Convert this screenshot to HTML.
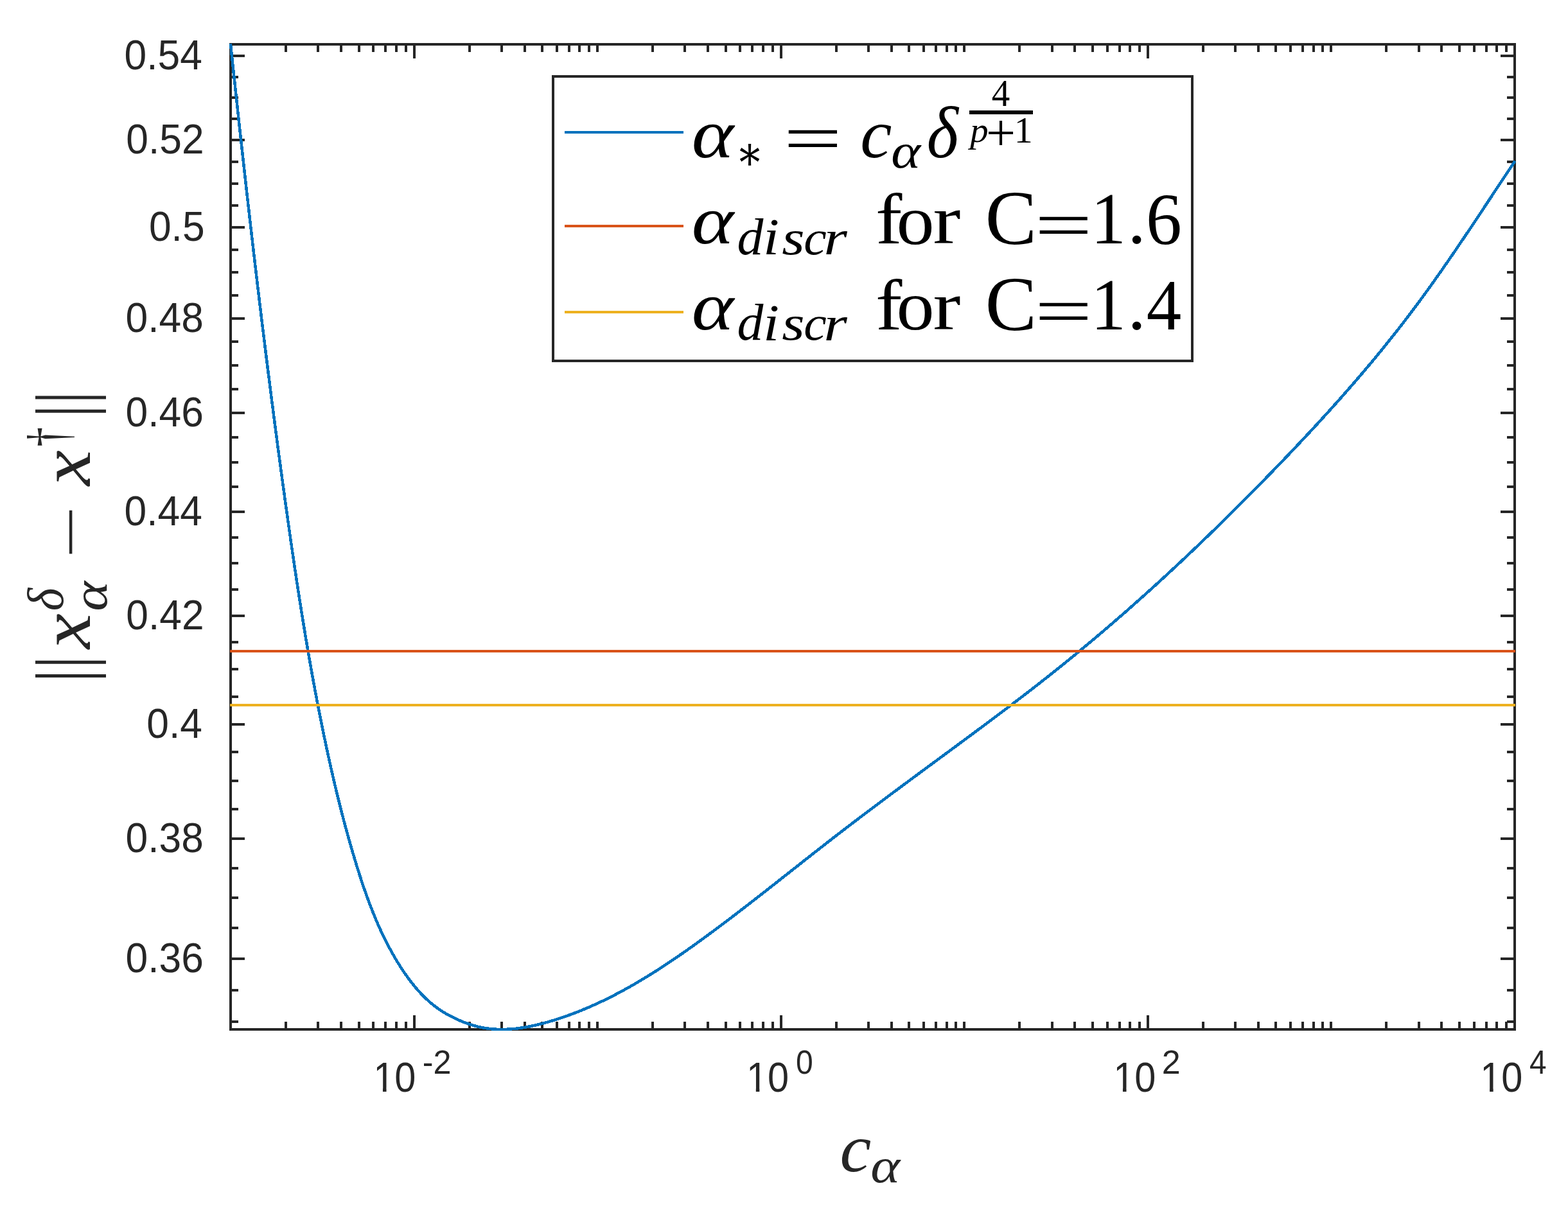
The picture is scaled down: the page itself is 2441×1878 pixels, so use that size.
<!DOCTYPE html>
<html><head><meta charset="utf-8"><title>plot</title>
<style>html,body{margin:0;padding:0;background:#fff;overflow:hidden}svg{display:block}</style></head>
<body>
<svg xmlns="http://www.w3.org/2000/svg" width="2441" height="1878" viewBox="0 0 2441 1878">
<rect x="0" y="0" width="2441" height="1878" fill="#ffffff"/>
<defs><clipPath id="axclip"><rect x="357" y="67" width="2003" height="1538"/></clipPath></defs>
<g shape-rendering="crispEdges">
<rect x="359.0" y="69.0" width="1999.0" height="1534.0" fill="none" stroke="#262626" stroke-width="4"/>
<path d="M359.00,1603.0 v-10 M359.00,69.0 v10 M444.97,1603.0 v-10 M444.97,69.0 v10 M495.25,1603.0 v-10 M495.25,69.0 v10 M530.93,1603.0 v-10 M530.93,69.0 v10 M558.61,1603.0 v-10 M558.61,69.0 v10 M581.22,1603.0 v-10 M581.22,69.0 v10 M600.34,1603.0 v-10 M600.34,69.0 v10 M616.90,1603.0 v-10 M616.90,69.0 v10 M631.50,1603.0 v-10 M631.50,69.0 v10 M644.57,1603.0 v-20 M644.57,69.0 v20 M730.54,1603.0 v-10 M730.54,69.0 v10 M780.82,1603.0 v-10 M780.82,69.0 v10 M816.50,1603.0 v-10 M816.50,69.0 v10 M844.18,1603.0 v-10 M844.18,69.0 v10 M866.79,1603.0 v-10 M866.79,69.0 v10 M885.91,1603.0 v-10 M885.91,69.0 v10 M902.47,1603.0 v-10 M902.47,69.0 v10 M917.08,1603.0 v-10 M917.08,69.0 v10 M930.14,1603.0 v-10 M930.14,69.0 v10 M1016.11,1603.0 v-10 M1016.11,69.0 v10 M1066.40,1603.0 v-10 M1066.40,69.0 v10 M1102.07,1603.0 v-10 M1102.07,69.0 v10 M1129.75,1603.0 v-10 M1129.75,69.0 v10 M1152.36,1603.0 v-10 M1152.36,69.0 v10 M1171.48,1603.0 v-10 M1171.48,69.0 v10 M1188.04,1603.0 v-10 M1188.04,69.0 v10 M1202.65,1603.0 v-10 M1202.65,69.0 v10 M1215.71,1603.0 v-20 M1215.71,69.0 v20 M1301.68,1603.0 v-10 M1301.68,69.0 v10 M1351.97,1603.0 v-10 M1351.97,69.0 v10 M1387.65,1603.0 v-10 M1387.65,69.0 v10 M1415.32,1603.0 v-10 M1415.32,69.0 v10 M1437.93,1603.0 v-10 M1437.93,69.0 v10 M1457.05,1603.0 v-10 M1457.05,69.0 v10 M1473.61,1603.0 v-10 M1473.61,69.0 v10 M1488.22,1603.0 v-10 M1488.22,69.0 v10 M1501.29,1603.0 v-10 M1501.29,69.0 v10 M1587.25,1603.0 v-10 M1587.25,69.0 v10 M1637.54,1603.0 v-10 M1637.54,69.0 v10 M1673.22,1603.0 v-10 M1673.22,69.0 v10 M1700.89,1603.0 v-10 M1700.89,69.0 v10 M1723.50,1603.0 v-10 M1723.50,69.0 v10 M1742.62,1603.0 v-10 M1742.62,69.0 v10 M1759.18,1603.0 v-10 M1759.18,69.0 v10 M1773.79,1603.0 v-10 M1773.79,69.0 v10 M1786.86,1603.0 v-20 M1786.86,69.0 v20 M1872.82,1603.0 v-10 M1872.82,69.0 v10 M1923.11,1603.0 v-10 M1923.11,69.0 v10 M1958.79,1603.0 v-10 M1958.79,69.0 v10 M1986.46,1603.0 v-10 M1986.46,69.0 v10 M2009.07,1603.0 v-10 M2009.07,69.0 v10 M2028.19,1603.0 v-10 M2028.19,69.0 v10 M2044.75,1603.0 v-10 M2044.75,69.0 v10 M2059.36,1603.0 v-10 M2059.36,69.0 v10 M2072.43,1603.0 v-10 M2072.43,69.0 v10 M2158.39,1603.0 v-10 M2158.39,69.0 v10 M2208.68,1603.0 v-10 M2208.68,69.0 v10 M2244.36,1603.0 v-10 M2244.36,69.0 v10 M2272.03,1603.0 v-10 M2272.03,69.0 v10 M2294.65,1603.0 v-10 M2294.65,69.0 v10 M2313.76,1603.0 v-10 M2313.76,69.0 v10 M2330.33,1603.0 v-10 M2330.33,69.0 v10 M2344.93,1603.0 v-10 M2344.93,69.0 v10 M2358.00,1603.0 v-20 M2358.00,69.0 v20 M359.0,1590.82 h10 M2358.0,1590.82 h-10 M359.0,1541.64 h10 M2358.0,1541.64 h-10 M359.0,1493.15 h20 M2358.0,1493.15 h-20 M359.0,1445.33 h10 M2358.0,1445.33 h-10 M359.0,1398.16 h10 M2358.0,1398.16 h-10 M359.0,1351.62 h10 M2358.0,1351.62 h-10 M359.0,1305.70 h20 M2358.0,1305.70 h-20 M359.0,1260.38 h10 M2358.0,1260.38 h-10 M359.0,1215.64 h10 M2358.0,1215.64 h-10 M359.0,1171.47 h10 M2358.0,1171.47 h-10 M359.0,1127.86 h20 M2358.0,1127.86 h-20 M359.0,1084.79 h10 M2358.0,1084.79 h-10 M359.0,1042.25 h10 M2358.0,1042.25 h-10 M359.0,1000.23 h10 M2358.0,1000.23 h-10 M359.0,958.71 h20 M2358.0,958.71 h-20 M359.0,917.68 h10 M2358.0,917.68 h-10 M359.0,877.13 h10 M2358.0,877.13 h-10 M359.0,837.05 h10 M2358.0,837.05 h-10 M359.0,797.42 h20 M2358.0,797.42 h-20 M359.0,758.25 h10 M2358.0,758.25 h-10 M359.0,719.51 h10 M2358.0,719.51 h-10 M359.0,681.20 h10 M2358.0,681.20 h-10 M359.0,643.31 h20 M2358.0,643.31 h-20 M359.0,605.83 h10 M2358.0,605.83 h-10 M359.0,568.75 h10 M2358.0,568.75 h-10 M359.0,532.06 h10 M2358.0,532.06 h-10 M359.0,495.75 h20 M2358.0,495.75 h-20 M359.0,459.83 h10 M2358.0,459.83 h-10 M359.0,424.27 h10 M2358.0,424.27 h-10 M359.0,389.07 h10 M2358.0,389.07 h-10 M359.0,354.22 h20 M2358.0,354.22 h-20 M359.0,319.73 h10 M2358.0,319.73 h-10 M359.0,285.57 h10 M2358.0,285.57 h-10 M359.0,251.74 h10 M2358.0,251.74 h-10 M359.0,218.25 h20 M2358.0,218.25 h-20 M359.0,185.07 h10 M2358.0,185.07 h-10 M359.0,152.21 h10 M2358.0,152.21 h-10 M359.0,119.65 h10 M2358.0,119.65 h-10 M359.0,87.40 h20 M2358.0,87.40 h-20" fill="none" stroke="#262626" stroke-width="4" stroke-linecap="square"/>
</g>
<g clip-path="url(#axclip)" fill="none" stroke-width="4" stroke-linejoin="round" shape-rendering="crispEdges">
<path d="M358.89,68.01 L359.00,69.00 L359.67,75.26 L360.34,81.53 L361.00,87.79 L361.67,94.05 L362.34,100.32 L363.01,106.58 L363.68,112.85 L364.35,119.11 L365.03,125.37 L365.70,131.64 L366.38,137.90 L367.05,144.16 L367.73,150.43 L368.41,156.69 L369.09,162.95 L369.77,169.22 L370.45,175.48 L371.13,181.74 L371.82,188.01 L372.50,194.27 L373.19,200.53 L373.87,206.80 L374.56,213.06 L375.25,219.32 L375.94,225.58 L376.63,231.85 L377.33,238.11 L378.02,244.37 L378.72,250.63 L379.42,256.89 L380.11,263.16 L380.81,269.42 L381.51,275.68 L382.22,281.94 L382.92,288.20 L383.63,294.46 L384.33,300.72 L385.04,306.98 L385.75,313.24 L386.46,319.50 L387.17,325.76 L387.89,332.02 L388.60,338.28 L389.32,344.54 L390.04,350.80 L390.76,357.06 L391.48,363.32 L392.20,369.58 L392.93,375.84 L393.65,382.09 L394.38,388.35 L395.11,394.61 L395.84,400.87 L396.58,407.12 L397.31,413.38 L398.05,419.64 L398.78,425.89 L399.52,432.15 L400.27,438.40 L401.01,444.66 L401.75,450.91 L402.50,457.17 L403.25,463.42 L404.00,469.68 L404.75,475.93 L405.51,482.19 L406.26,488.44 L407.02,494.69 L407.78,500.94 L408.55,507.20 L409.31,513.45 L410.08,519.70 L410.84,525.95 L411.61,532.20 L412.39,538.45 L413.16,544.70 L413.94,550.95 L414.71,557.20 L415.49,563.45 L416.28,569.70 L417.06,575.95 L417.85,582.20 L418.64,588.44 L419.43,594.69 L420.22,600.94 L421.02,607.18 L421.81,613.43 L422.61,619.68 L423.41,625.92 L424.22,632.17 L425.03,638.41 L425.83,644.65 L426.65,650.90 L427.46,657.14 L428.27,663.38 L429.09,669.62 L429.91,675.87 L430.74,682.11 L431.56,688.35 L432.39,694.59 L433.22,700.83 L434.05,707.07 L434.89,713.31 L435.72,719.54 L436.56,725.78 L437.41,732.02 L438.25,738.26 L439.10,744.49 L439.95,750.73 L440.80,756.96 L441.66,763.20 L442.52,769.43 L443.38,775.66 L444.24,781.90 L445.11,788.13 L445.98,794.36 L446.85,800.59 L447.72,806.82 L448.60,813.05 L449.48,819.28 L450.36,825.51 L451.25,831.74 L452.14,837.97 L453.03,844.20 L453.93,850.42 L454.83,856.65 L455.74,862.88 L456.65,869.10 L457.56,875.33 L458.49,881.55 L459.41,887.77 L460.34,893.99 L461.28,900.22 L462.22,906.44 L463.16,912.66 L464.12,918.88 L465.07,925.10 L466.04,931.32 L467.01,937.53 L467.99,943.75 L468.97,949.97 L469.96,956.18 L470.96,962.40 L471.96,968.61 L472.98,974.83 L474.00,981.04 L475.02,987.25 L476.06,993.47 L477.10,999.68 L478.15,1005.89 L479.21,1012.10 L480.28,1018.31 L481.36,1024.51 L482.44,1030.72 L483.54,1036.93 L484.64,1043.13 L485.76,1049.34 L486.88,1055.54 L488.01,1061.75 L489.16,1067.95 L490.31,1074.15 L491.47,1080.35 L492.65,1086.55 L493.83,1092.75 L495.02,1098.95 L496.23,1105.15 L497.45,1111.35 L498.67,1117.55 L499.91,1123.74 L501.16,1129.94 L502.43,1136.13 L503.70,1142.33 L504.99,1148.52 L506.29,1154.71 L507.60,1160.90 L508.92,1167.09 L510.26,1173.28 L511.61,1179.46 L512.98,1185.65 L514.35,1191.83 L515.75,1198.01 L517.15,1204.18 L518.58,1210.35 L520.01,1216.52 L521.46,1222.68 L522.93,1228.84 L524.42,1234.99 L525.91,1241.13 L527.43,1247.27 L528.96,1253.40 L530.51,1259.53 L532.08,1265.64 L533.67,1271.75 L535.27,1277.85 L536.89,1283.95 L538.53,1290.03 L540.19,1296.10 L541.87,1302.17 L543.56,1308.22 L545.28,1314.26 L547.02,1320.29 L548.78,1326.32 L550.55,1332.32 L552.35,1338.32 L554.17,1344.30 L556.01,1350.28 L557.88,1356.23 L559.76,1362.18 L561.68,1368.11 L563.62,1374.02 L565.60,1379.92 L567.62,1385.81 L569.67,1391.68 L571.76,1397.53 L573.90,1403.36 L576.09,1409.18 L578.32,1414.99 L580.61,1420.77 L582.96,1426.54 L585.36,1432.28 L587.82,1438.01 L590.35,1443.72 L592.95,1449.41 L595.61,1455.08 L598.35,1460.73 L601.16,1466.36 L604.06,1471.97 L607.03,1477.55 L610.09,1483.12 L613.23,1488.66 L616.46,1494.18 L619.79,1499.67 L623.21,1505.13 L626.73,1510.55 L630.35,1515.90 L634.07,1521.19 L637.90,1526.39 L641.83,1531.49 L645.88,1536.49 L650.04,1541.36 L654.31,1546.10 L658.71,1550.69 L663.22,1555.12 L667.86,1559.38 L672.63,1563.45 L677.52,1567.33 L682.55,1570.99 L687.70,1574.45 L692.98,1577.69 L698.38,1580.76 L703.88,1583.64 L709.49,1586.37 L715.18,1588.94 L720.96,1591.34 L726.82,1593.56 L732.75,1595.57 L738.73,1597.36 L744.77,1598.91 L750.86,1600.21 L756.98,1601.25 L763.14,1602.04 L769.33,1602.58 L775.54,1602.89 L781.77,1602.97 L788.02,1602.84 L794.28,1602.51 L800.55,1601.99 L806.82,1601.29 L813.09,1600.42 L819.35,1599.39 L825.60,1598.21 L831.84,1596.89 L838.07,1595.44 L844.27,1593.87 L850.44,1592.20 L856.58,1590.43 L862.68,1588.58 L868.75,1586.64 L874.77,1584.65 L880.75,1582.58 L886.69,1580.45 L892.59,1578.25 L898.46,1576.00 L904.28,1573.68 L910.08,1571.29 L915.84,1568.85 L921.56,1566.35 L927.26,1563.79 L932.93,1561.18 L938.57,1558.51 L944.18,1555.78 L949.77,1553.00 L955.33,1550.17 L960.87,1547.28 L966.39,1544.35 L971.88,1541.36 L977.36,1538.33 L982.82,1535.25 L988.25,1532.12 L993.67,1528.96 L999.07,1525.75 L1004.45,1522.50 L1009.81,1519.21 L1015.15,1515.88 L1020.48,1512.52 L1025.79,1509.12 L1031.08,1505.69 L1036.35,1502.22 L1041.61,1498.73 L1046.86,1495.21 L1052.08,1491.66 L1057.30,1488.08 L1062.50,1484.48 L1067.68,1480.86 L1072.85,1477.21 L1078.01,1473.54 L1083.16,1469.86 L1088.29,1466.16 L1093.41,1462.44 L1098.52,1458.70 L1103.62,1454.96 L1108.70,1451.20 L1113.78,1447.43 L1118.85,1443.65 L1123.90,1439.86 L1128.95,1436.05 L1133.99,1432.24 L1139.02,1428.42 L1144.04,1424.59 L1149.06,1420.75 L1154.06,1416.91 L1159.06,1413.06 L1164.06,1409.20 L1169.05,1405.33 L1174.03,1401.46 L1179.00,1397.59 L1183.97,1393.71 L1188.94,1389.82 L1193.90,1385.93 L1198.86,1382.04 L1203.82,1378.15 L1208.77,1374.25 L1213.72,1370.35 L1218.67,1366.45 L1223.61,1362.55 L1228.56,1358.65 L1233.50,1354.75 L1238.44,1350.86 L1243.39,1346.96 L1248.33,1343.06 L1253.27,1339.17 L1258.22,1335.28 L1263.16,1331.39 L1268.11,1327.51 L1273.06,1323.63 L1278.01,1319.76 L1282.96,1315.89 L1287.92,1312.03 L1292.88,1308.17 L1297.85,1304.32 L1302.82,1300.48 L1307.80,1296.65 L1312.77,1292.82 L1317.76,1289.00 L1322.75,1285.19 L1327.74,1281.38 L1332.73,1277.58 L1337.73,1273.78 L1342.74,1269.99 L1347.75,1266.21 L1352.76,1262.43 L1357.77,1258.65 L1362.79,1254.88 L1367.81,1251.12 L1372.84,1247.36 L1377.87,1243.60 L1382.90,1239.85 L1387.93,1236.09 L1392.97,1232.35 L1398.01,1228.60 L1403.05,1224.86 L1408.09,1221.12 L1413.14,1217.38 L1418.19,1213.64 L1423.24,1209.90 L1428.29,1206.17 L1433.35,1202.43 L1438.40,1198.70 L1443.46,1194.97 L1448.52,1191.23 L1453.58,1187.50 L1458.65,1183.77 L1463.71,1180.03 L1468.78,1176.29 L1473.84,1172.56 L1478.91,1168.82 L1483.98,1165.08 L1489.05,1161.34 L1494.12,1157.59 L1499.19,1153.84 L1504.26,1150.09 L1509.33,1146.34 L1514.40,1142.58 L1519.47,1138.82 L1524.54,1135.06 L1529.61,1131.29 L1534.68,1127.52 L1539.74,1123.74 L1544.80,1119.95 L1549.86,1116.17 L1554.91,1112.37 L1559.96,1108.57 L1565.01,1104.77 L1570.05,1100.96 L1575.09,1097.14 L1580.12,1093.31 L1585.15,1089.48 L1590.17,1085.64 L1595.18,1081.79 L1600.19,1077.94 L1605.18,1074.07 L1610.18,1070.20 L1615.16,1066.32 L1620.13,1062.43 L1625.10,1058.53 L1630.06,1054.63 L1635.00,1050.71 L1639.94,1046.78 L1644.87,1042.84 L1649.79,1038.90 L1654.70,1034.94 L1659.60,1030.97 L1664.49,1027.00 L1669.37,1023.01 L1674.24,1019.02 L1679.10,1015.01 L1683.96,1011.00 L1688.80,1006.98 L1693.64,1002.95 L1698.46,998.90 L1703.28,994.85 L1708.09,990.79 L1712.89,986.73 L1717.68,982.65 L1722.46,978.56 L1727.24,974.47 L1732.00,970.36 L1736.76,966.25 L1741.51,962.13 L1746.25,958.00 L1750.98,953.86 L1755.71,949.71 L1760.42,945.55 L1765.13,941.38 L1769.83,937.21 L1774.52,933.03 L1779.21,928.84 L1783.88,924.64 L1788.55,920.43 L1793.21,916.21 L1797.86,911.99 L1802.51,907.75 L1807.14,903.51 L1811.77,899.26 L1816.40,895.01 L1821.01,890.74 L1825.62,886.47 L1830.22,882.19 L1834.81,877.90 L1839.40,873.60 L1843.97,869.29 L1848.55,864.98 L1853.11,860.66 L1857.67,856.33 L1862.22,851.99 L1866.76,847.65 L1871.30,843.30 L1875.83,838.94 L1880.35,834.57 L1884.87,830.20 L1889.38,825.82 L1893.88,821.43 L1898.38,817.03 L1902.87,812.63 L1907.36,808.22 L1911.83,803.80 L1916.31,799.38 L1920.77,794.94 L1925.23,790.51 L1929.69,786.06 L1934.13,781.61 L1938.58,777.15 L1943.01,772.68 L1947.44,768.20 L1951.87,763.72 L1956.28,759.24 L1960.70,754.74 L1965.11,750.24 L1969.51,745.73 L1973.90,741.22 L1978.30,736.70 L1982.68,732.17 L1987.06,727.64 L1991.44,723.10 L1995.81,718.55 L2000.17,714.00 L2004.53,709.44 L2008.88,704.87 L2013.22,700.30 L2017.56,695.72 L2021.89,691.13 L2026.21,686.53 L2030.53,681.93 L2034.83,677.31 L2039.13,672.69 L2043.42,668.07 L2047.71,663.43 L2051.98,658.79 L2056.24,654.13 L2060.50,649.47 L2064.74,644.81 L2068.98,640.13 L2073.20,635.44 L2077.42,630.75 L2081.62,626.04 L2085.82,621.33 L2090.00,616.60 L2094.17,611.87 L2098.33,607.13 L2102.48,602.38 L2106.61,597.62 L2110.74,592.85 L2114.85,588.06 L2118.94,583.27 L2123.03,578.47 L2127.10,573.66 L2131.16,568.84 L2135.20,564.00 L2139.23,559.16 L2143.25,554.31 L2147.25,549.44 L2151.24,544.56 L2155.21,539.68 L2159.16,534.78 L2163.11,529.87 L2167.03,524.94 L2170.94,520.01 L2174.83,515.06 L2178.71,510.11 L2182.57,505.14 L2186.41,500.16 L2190.23,495.16 L2194.04,490.16 L2197.83,485.14 L2201.60,480.11 L2205.36,475.06 L2209.10,470.01 L2212.82,464.94 L2216.53,459.86 L2220.22,454.78 L2223.90,449.68 L2227.57,444.57 L2231.22,439.45 L2234.86,434.32 L2238.48,429.19 L2242.10,424.04 L2245.70,418.89 L2249.29,413.73 L2252.88,408.56 L2256.45,403.38 L2260.01,398.20 L2263.56,393.01 L2267.11,387.81 L2270.65,382.61 L2274.18,377.40 L2277.70,372.19 L2281.22,366.97 L2284.73,361.74 L2288.23,356.51 L2291.73,351.28 L2295.23,346.04 L2298.72,340.80 L2302.21,335.56 L2305.70,330.31 L2309.18,325.07 L2312.67,319.81 L2316.15,314.56 L2319.63,309.31 L2323.11,304.05 L2326.59,298.79 L2330.07,293.54 L2333.55,288.28 L2337.03,283.02 L2340.52,277.77 L2344.01,272.51 L2347.50,267.25 L2350.99,262.00 L2354.49,256.75 L2358.00,251.50 L2358.55,250.67" stroke="#0072BD" stroke-width="4.5"/>
<path d="M358,1014 H2359" stroke="#D95319"/>
<path d="M358,1098 H2359" stroke="#EDB120"/>
</g>
<text font-family="'Liberation Sans', Arial, Helvetica, sans-serif" fill="#262626"><tspan x="193.62" y="108.40" font-size="64.60" textLength="121.33" lengthAdjust="spacingAndGlyphs">0.54</tspan></text>
<text font-family="'Liberation Sans', Arial, Helvetica, sans-serif" fill="#262626"><tspan x="196.26" y="239.25" font-size="64.60" textLength="121.33" lengthAdjust="spacingAndGlyphs">0.52</tspan></text>
<text font-family="'Liberation Sans', Arial, Helvetica, sans-serif" fill="#262626"><tspan x="231.94" y="375.22" font-size="64.60" textLength="86.66" lengthAdjust="spacingAndGlyphs">0.5</tspan></text>
<text font-family="'Liberation Sans', Arial, Helvetica, sans-serif" fill="#262626"><tspan x="195.55" y="516.75" font-size="64.60" textLength="121.33" lengthAdjust="spacingAndGlyphs">0.48</tspan></text>
<text font-family="'Liberation Sans', Arial, Helvetica, sans-serif" fill="#262626"><tspan x="195.55" y="664.31" font-size="64.60" textLength="121.33" lengthAdjust="spacingAndGlyphs">0.46</tspan></text>
<text font-family="'Liberation Sans', Arial, Helvetica, sans-serif" fill="#262626"><tspan x="193.62" y="818.42" font-size="64.60" textLength="121.33" lengthAdjust="spacingAndGlyphs">0.44</tspan></text>
<text font-family="'Liberation Sans', Arial, Helvetica, sans-serif" fill="#262626"><tspan x="196.26" y="979.71" font-size="64.60" textLength="121.33" lengthAdjust="spacingAndGlyphs">0.42</tspan></text>
<text font-family="'Liberation Sans', Arial, Helvetica, sans-serif" fill="#262626"><tspan x="228.32" y="1148.86" font-size="64.60" textLength="86.66" lengthAdjust="spacingAndGlyphs">0.4</tspan></text>
<text font-family="'Liberation Sans', Arial, Helvetica, sans-serif" fill="#262626"><tspan x="195.55" y="1326.70" font-size="64.60" textLength="121.33" lengthAdjust="spacingAndGlyphs">0.38</tspan></text>
<text font-family="'Liberation Sans', Arial, Helvetica, sans-serif" fill="#262626"><tspan x="195.55" y="1514.15" font-size="64.60" textLength="121.33" lengthAdjust="spacingAndGlyphs">0.36</tspan></text>
<text font-family="'Liberation Sans', Arial, Helvetica, sans-serif" fill="#262626"><tspan x="581.18" y="1699.90" font-size="64.60" textLength="66.11" lengthAdjust="spacingAndGlyphs">10</tspan><tspan x="657.83" y="1672.00" font-size="52.00" textLength="44.71" lengthAdjust="spacingAndGlyphs">-2</tspan></text>
<text font-family="'Liberation Sans', Arial, Helvetica, sans-serif" fill="#262626"><tspan x="1162.02" y="1699.90" font-size="64.60" textLength="66.11" lengthAdjust="spacingAndGlyphs">10</tspan><tspan x="1239.06" y="1672.00" font-size="52.00" textLength="26.75" lengthAdjust="spacingAndGlyphs">0</tspan></text>
<text font-family="'Liberation Sans', Arial, Helvetica, sans-serif" fill="#262626"><tspan x="1733.17" y="1699.90" font-size="64.60" textLength="66.11" lengthAdjust="spacingAndGlyphs">10</tspan><tspan x="1808.71" y="1672.00" font-size="52.00">2</tspan></text>
<text font-family="'Liberation Sans', Arial, Helvetica, sans-serif" fill="#262626"><tspan x="2304.31" y="1699.90" font-size="64.60" textLength="66.11" lengthAdjust="spacingAndGlyphs">10</tspan><tspan x="2381.00" y="1672.00" font-size="52.00" textLength="26.61" lengthAdjust="spacingAndGlyphs">4</tspan></text>
<path d="M584.47,1694.4 H595.97 V1701 H584.47 Z M601.52,1694.4 H612.97 V1701 H601.52 Z" fill="#ffffff"/>
<path d="M1165.31,1694.4 H1176.81 V1701 H1165.31 Z M1182.36,1694.4 H1193.81 V1701 H1182.36 Z" fill="#ffffff"/>
<path d="M1736.46,1694.4 H1747.96 V1701 H1736.46 Z M1753.51,1694.4 H1764.96 V1701 H1753.51 Z" fill="#ffffff"/>
<path d="M2307.60,1694.4 H2319.10 V1701 H2307.60 Z M2324.65,1694.4 H2336.10 V1701 H2324.65 Z" fill="#ffffff"/>
<rect x="861" y="119" width="995" height="443" fill="#ffffff" stroke="#262626" stroke-width="4" shape-rendering="crispEdges"/>
<g stroke-width="4" fill="none" shape-rendering="crispEdges">
<path d="M879,206 H1064" stroke="#0072BD"/>
<path d="M879,352 H1064" stroke="#D95319"/>
<path d="M879,486 H1064" stroke="#EDB120"/>
</g>
<text font-family="'Liberation Serif', 'DejaVu Serif', serif" fill="#000"><tspan x="1076.75" y="244.92" font-size="107.59" textLength="65.57" lengthAdjust="spacingAndGlyphs" font-style="italic">α</tspan><tspan x="1145.07" y="264.14" font-size="74.34" textLength="44.13" lengthAdjust="spacingAndGlyphs" font-family="'DejaVu Serif', serif">∗</tspan><tspan x="1219.72" y="251.47" font-size="106.80" textLength="91.13" lengthAdjust="spacingAndGlyphs">=</tspan><tspan x="1339.38" y="245.22" font-size="108.13" textLength="49.19" lengthAdjust="spacingAndGlyphs" font-style="italic">c</tspan><tspan x="1387.38" y="261.33" font-size="77.17" textLength="45.91" lengthAdjust="spacingAndGlyphs" font-style="italic">α</tspan><tspan x="1442.83" y="245.15" font-size="114.93" textLength="49.12" lengthAdjust="spacingAndGlyphs" font-style="italic">δ</tspan><tspan x="1543.76" y="165.10" font-size="58.33" textLength="28.49" lengthAdjust="spacingAndGlyphs">4</tspan><tspan x="1510.21" y="220.95" font-size="54.15" textLength="28.40" lengthAdjust="spacingAndGlyphs" font-style="italic">p</tspan><tspan x="1534.92" y="233.88" font-size="80.79" textLength="46.05" lengthAdjust="spacingAndGlyphs">+</tspan><tspan x="1578.67" y="222.10" font-size="57.73" textLength="29.01" lengthAdjust="spacingAndGlyphs">1</tspan></text>
<rect x="1509" y="172" width="99" height="6" fill="#000"/>
<text font-family="'Liberation Serif', 'DejaVu Serif', serif" fill="#000"><tspan x="1076.75" y="379.14" font-size="106.14" textLength="65.57" lengthAdjust="spacingAndGlyphs" font-style="italic">α</tspan><tspan x="1147.55" y="395.50" font-size="80.05" textLength="40.88" lengthAdjust="spacingAndGlyphs" font-style="italic">d</tspan><tspan x="1188.05" y="396.00" font-size="80.65" textLength="25.10" lengthAdjust="spacingAndGlyphs" font-style="italic">i</tspan><tspan x="1217.29" y="395.54" font-size="76.25" textLength="35.36" lengthAdjust="spacingAndGlyphs" font-style="italic">s</tspan><tspan x="1251.20" y="395.54" font-size="76.25" textLength="35.43" lengthAdjust="spacingAndGlyphs" font-style="italic">c</tspan><tspan x="1282.46" y="395.80" font-size="76.81" textLength="36.35" lengthAdjust="spacingAndGlyphs" font-style="italic">r</tspan><tspan x="1363.07" y="379.20" font-size="113.03" textLength="41.39" lengthAdjust="spacingAndGlyphs">f</tspan><tspan x="1395.47" y="379.50" font-size="109.79" textLength="59.06" lengthAdjust="spacingAndGlyphs">o</tspan><tspan x="1452.42" y="379.20" font-size="107.02" textLength="42.93" lengthAdjust="spacingAndGlyphs">r</tspan><tspan x="1533.69" y="379.89" font-size="120.89" textLength="80.16" lengthAdjust="spacingAndGlyphs">C</tspan><tspan x="1610.84" y="385.71" font-size="106.00" textLength="89.80" lengthAdjust="spacingAndGlyphs">=</tspan><tspan x="1698.36" y="379.20" font-size="114.39" textLength="54.48" lengthAdjust="spacingAndGlyphs">1</tspan><tspan x="1755.24" y="377.69" font-size="113.14" textLength="28.71" lengthAdjust="spacingAndGlyphs">.</tspan><tspan x="1783.97" y="380.25" font-size="114.95" textLength="55.78" lengthAdjust="spacingAndGlyphs">6</tspan></text>
<text font-family="'Liberation Serif', 'DejaVu Serif', serif" fill="#000"><tspan x="1076.75" y="513.04" font-size="106.14" textLength="65.57" lengthAdjust="spacingAndGlyphs" font-style="italic">α</tspan><tspan x="1147.55" y="529.40" font-size="80.05" textLength="40.88" lengthAdjust="spacingAndGlyphs" font-style="italic">d</tspan><tspan x="1188.05" y="529.90" font-size="80.65" textLength="25.10" lengthAdjust="spacingAndGlyphs" font-style="italic">i</tspan><tspan x="1217.29" y="529.44" font-size="76.25" textLength="35.36" lengthAdjust="spacingAndGlyphs" font-style="italic">s</tspan><tspan x="1251.20" y="529.44" font-size="76.25" textLength="35.43" lengthAdjust="spacingAndGlyphs" font-style="italic">c</tspan><tspan x="1282.46" y="529.70" font-size="76.81" textLength="36.35" lengthAdjust="spacingAndGlyphs" font-style="italic">r</tspan><tspan x="1363.07" y="513.10" font-size="113.03" textLength="41.39" lengthAdjust="spacingAndGlyphs">f</tspan><tspan x="1395.47" y="513.40" font-size="109.79" textLength="59.06" lengthAdjust="spacingAndGlyphs">o</tspan><tspan x="1452.42" y="513.10" font-size="107.02" textLength="42.93" lengthAdjust="spacingAndGlyphs">r</tspan><tspan x="1533.69" y="513.79" font-size="120.89" textLength="80.16" lengthAdjust="spacingAndGlyphs">C</tspan><tspan x="1610.84" y="519.61" font-size="106.00" textLength="89.80" lengthAdjust="spacingAndGlyphs">=</tspan><tspan x="1698.36" y="513.10" font-size="114.39" textLength="54.48" lengthAdjust="spacingAndGlyphs">1</tspan><tspan x="1755.24" y="511.59" font-size="113.14" textLength="28.71" lengthAdjust="spacingAndGlyphs">.</tspan><tspan x="1784.72" y="513.10" font-size="112.58" textLength="54.50" lengthAdjust="spacingAndGlyphs">4</tspan></text>
<text font-family="'Liberation Serif', 'DejaVu Serif', serif" fill="#262626"><tspan x="1307.60" y="1823.84" font-size="106.46" textLength="48.75" lengthAdjust="spacingAndGlyphs" font-style="italic">c</tspan><tspan x="1355.18" y="1840.64" font-size="75.72" textLength="45.91" lengthAdjust="spacingAndGlyphs" font-style="italic">α</tspan></text>
<text font-family="'Liberation Serif', 'DejaVu Serif', serif" fill="#262626" transform="translate(0,1100) rotate(-90)"><tspan x="37.00" y="139.34" font-size="121.65" textLength="21.02" lengthAdjust="spacingAndGlyphs">|</tspan><tspan x="58.30" y="139.34" font-size="121.65" textLength="21.02" lengthAdjust="spacingAndGlyphs">|</tspan><tspan x="89.85" y="140.10" font-size="111.52" textLength="54.84" lengthAdjust="spacingAndGlyphs" font-style="italic">x</tspan><tspan x="148.34" y="166.14" font-size="76.34" textLength="46.63" lengthAdjust="spacingAndGlyphs" font-style="italic">α</tspan><tspan x="148.70" y="97.99" font-size="81.13" textLength="35.59" lengthAdjust="spacingAndGlyphs" font-style="italic">δ</tspan><tspan x="230.74" y="140.30" font-size="90.00" textLength="81.94" lengthAdjust="spacingAndGlyphs">−</tspan><tspan x="343.76" y="140.10" font-size="111.52" textLength="55.24" lengthAdjust="spacingAndGlyphs" font-style="italic">x</tspan><tspan x="404.49" y="104.60" font-size="90.00" textLength="30.23" lengthAdjust="spacingAndGlyphs">†</tspan><tspan x="449.20" y="139.34" font-size="121.65" textLength="21.02" lengthAdjust="spacingAndGlyphs">|</tspan><tspan x="470.50" y="139.34" font-size="121.65" textLength="21.02" lengthAdjust="spacingAndGlyphs">|</tspan></text>
</svg>
</body></html>
